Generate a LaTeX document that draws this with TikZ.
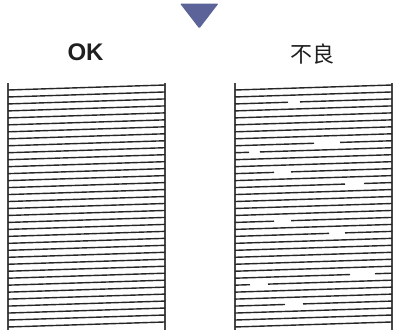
\documentclass[tikz,border=0pt]{standalone}
\usepackage{fontspec}
\setmainfont{Liberation Sans}
\newfontfamily\cjkfont{Noto Sans CJK SC}
\usepackage{xcolor}
\definecolor{markblue}{HTML}{5B6398}
\definecolor{inkgray}{HTML}{262626}
\tikzset{
  rule/.style={draw=inkgray, line width=1.4pt},
  edge/.style={draw=inkgray!85, line width=1.1pt},
}

\begin{document}
\begin{tikzpicture}[x=1pt, y=-1pt, every node/.style={inner sep=0pt, text=black!88}]
\useasboundingbox (0,0) rectangle (393,332);
% marker at the top
\fill[markblue, rounded corners=1pt] (180,3.5) -- (218.5,3.5) -- (199.3,28.5) -- cycle;
\node[font=\bfseries\fontsize{24}{24}\selectfont] (okTitle) at (85.5,52.5) {OK};
\node[font=\cjkfont\fontsize{22}{22}\selectfont] (ngTitle) at (312.5,54) {不良};

% good pattern
\begin{scope}[shift={(8,0)}]
  \draw[edge] (0,83) -- (0,330) (157,83) -- (157,330);
  \foreach \k in {0,...,34}
    \draw[rule] (0,{90+6.97*\k}) -- (157,{85+6.97*\k});
\end{scope}

% bad pattern, some rows broken
\begin{scope}[shift={(235,0)}]
  \draw[edge] (0,83) -- (0,330) (157,83) -- (157,330);
  \foreach \k in {0,1,3,4,5,6,7,10,11,13,15,16,17,18,20,22,23,24,25,26,29,30,32,33,34}
    \draw[rule] (0,{90+6.97*\k}) -- (157,{85+6.97*\k});
  \foreach \k/\a/\b in {2/53/65, 8/79/105, 9/14/25, 12/39/56, 14/110/129,
                        19/39/56, 21/94/110, 27/115/140, 28/15/33, 31/50/68}
    \draw[rule] (0,{90+6.97*\k}) -- (\a,{90+6.97*\k-5*\a/157})
                (\b,{90+6.97*\k-5*\b/157}) -- (157,{85+6.97*\k});
\end{scope}
\end{tikzpicture}
\end{document}
